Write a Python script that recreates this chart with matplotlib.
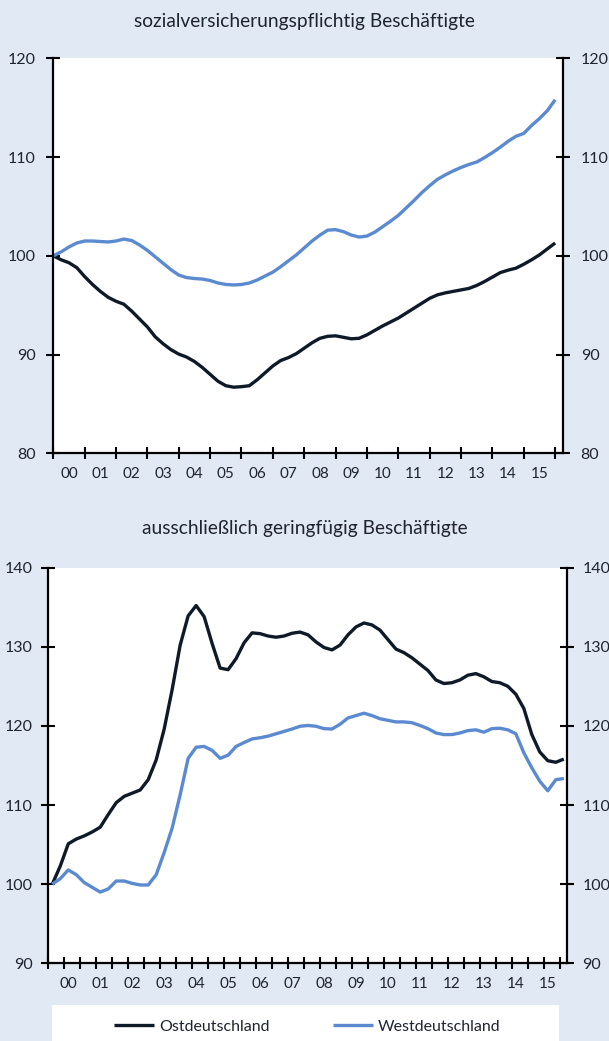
import numpy as np
import matplotlib
matplotlib.use('Agg')
import matplotlib.pyplot as plt
from matplotlib.patches import Rectangle

plt.rcParams['font.family'] = ['Lato', 'DejaVu Sans']

# quarterly index values, 2000 = 100 (Q1 2000 .. Q1 2016)
quarters = 2000 + np.arange(65) / 4.0

svb_ost = [100.0, 99.6, 99.3, 98.8, 97.9, 97.1, 96.4, 95.8, 95.4, 95.1,
           94.4, 93.6, 92.8, 91.8, 91.1, 90.5, 90.05, 89.75, 89.3, 88.7,
           88.0, 87.3, 86.85, 86.7, 86.75, 86.85, 87.45, 88.15, 88.85, 89.4,
           89.7, 90.1, 90.65, 91.2, 91.65, 91.85, 91.9, 91.75, 91.6, 91.65,
           92.0, 92.45, 92.9, 93.3, 93.7, 94.2, 94.7, 95.2, 95.7, 96.05,
           96.25, 96.4, 96.55, 96.7, 97.0, 97.4, 97.85, 98.3, 98.55, 98.75,
           99.15, 99.6, 100.1, 100.7, 101.3]
svb_west = [100.0, 100.4, 100.9, 101.3, 101.5, 101.5, 101.45, 101.4, 101.5, 101.7,
            101.55, 101.1, 100.55, 99.9, 99.25, 98.6, 98.05, 97.8, 97.7, 97.65,
            97.5, 97.25, 97.1, 97.05, 97.1, 97.25, 97.55, 97.95, 98.35, 98.9,
            99.5, 100.1, 100.8, 101.5, 102.1, 102.6, 102.65, 102.45, 102.1, 101.9,
            102.0, 102.4, 102.95, 103.5, 104.1, 104.85, 105.6, 106.4, 107.1, 107.75,
            108.2, 108.6, 108.95, 109.25, 109.5, 109.95, 110.45, 111.0, 111.6, 112.1,
            112.4, 113.2, 113.9, 114.7, 115.8]

gb_ost = [100.0, 102.3, 105.1, 105.7, 106.1, 106.6, 107.2, 108.8, 110.3, 111.1,
          111.5, 111.9, 113.2, 115.7, 119.6, 124.6, 130.2, 133.9, 135.2, 133.8,
          130.4, 127.3, 127.1, 128.5, 130.5, 131.75, 131.65, 131.35, 131.2, 131.35,
          131.7, 131.85, 131.5, 130.6, 129.9, 129.6, 130.2, 131.5, 132.5, 133.0,
          132.75, 132.1, 130.9, 129.7, 129.25, 128.6, 127.8, 127.0, 125.8, 125.35,
          125.45, 125.8, 126.4, 126.6, 126.2, 125.6, 125.45, 125.0, 124.0, 122.2,
          118.9, 116.7, 115.6, 115.4, 115.8]
gb_west = [100.0, 100.7, 101.8, 101.2, 100.2, 99.6, 99.0, 99.4, 100.4, 100.4,
           100.1, 99.9, 99.9, 101.2, 104.0, 107.1, 111.3, 115.9, 117.3, 117.4,
           116.9, 115.9, 116.3, 117.4, 117.9, 118.35, 118.5, 118.7, 119.0, 119.3,
           119.6, 119.95, 120.05, 119.95, 119.65, 119.6, 120.2, 121.0, 121.3, 121.6,
           121.3, 120.9, 120.7, 120.5, 120.5, 120.4, 120.05, 119.65, 119.1, 118.9,
           118.9, 119.1, 119.4, 119.5, 119.2, 119.65, 119.7, 119.5, 119.0, 116.6,
           114.7, 113.0, 111.8, 113.2, 113.35]

years = list(range(2000, 2016))
year_labels = ['%02d' % (y % 100) for y in years]

bg = '#e1e9f4'
c_ost = '#0e1a28'
c_west = '#5b8ad0'
txt = '#1f2530'

fig = plt.figure(figsize=(6.09, 10.41), dpi=100, facecolor=bg)


def style_axes(ax, yticks, xticks, ypad):
    ax.set_facecolor('white')
    ax.spines['top'].set_visible(False)
    for s in ['left', 'right', 'bottom']:
        ax.spines[s].set_linewidth(1.6)
        ax.spines[s].set_color('black')
    ax.set_yticks(yticks)
    ax.set_ylim(yticks[0], yticks[-1])
    ax.set_xticks(xticks)
    ax.set_xticklabels([])
    ax.set_xticks([y + 0.5 for y in years], minor=True)
    ax.set_xticklabels(year_labels, minor=True)
    ax.tick_params(axis='x', which='major', direction='inout', length=8,
                   width=1.5, color='black')
    ax.tick_params(axis='x', which='minor', length=0, pad=10,
                   labelsize=11, labelcolor=txt)
    ax.tick_params(axis='y', direction='inout', length=10, width=1.5,
                   color='black', left=True, right=True,
                   labelleft=True, labelright=True, pad=ypad,
                   labelsize=11.5, labelcolor=txt)


# top panel
ax1 = fig.add_axes([0.0875, 0.5645, 0.8375, 0.3795])
ax1.plot(quarters, svb_ost, color=c_ost, lw=2.4, solid_capstyle='butt')
ax1.plot(quarters, svb_west, color=c_west, lw=2.4, solid_capstyle='butt')
style_axes(ax1, [80, 90, 100, 110, 120], list(range(2000, 2017)), 7.5)
ax1.set_xlim(2000, 2016.26)
fig.text(0.5, 0.979, 'sozialversicherungspflichtig Beschäftigte',
         ha='center', va='center', fontsize=13.8, color=txt)

# bottom panel
ax2 = fig.add_axes([0.0793, 0.0746, 0.8517, 0.3802])
l_ost, = ax2.plot(quarters, gb_ost, color=c_ost, lw=2.4, solid_capstyle='butt')
l_west, = ax2.plot(quarters, gb_west, color=c_west, lw=2.4, solid_capstyle='butt')
style_axes(ax2, [90, 100, 110, 120, 130, 140],
           list(np.arange(1999.875, 2016.0, 0.5)), 6)
ax2.set_xlim(1999.875, 2016.1)
fig.text(0.5, 0.492, 'ausschließlich geringfügig Beschäftigte',
         ha='center', va='center', fontsize=13.8, color=txt)

# legend box
fig.patches.append(Rectangle((0.0854, 0.0), 0.8326, 0.0346, transform=fig.transFigure,
                             facecolor='white', edgecolor='none', zorder=0))
fig.legend([l_ost, l_west], ['Ostdeutschland', 'Westdeutschland'],
           loc='center', bbox_to_anchor=(0.505, 0.0135), ncol=2, frameon=False,
           fontsize=11.5, handlelength=2.5, handletextpad=0.3,
           columnspacing=4.0, labelcolor=txt)

fig.savefig('out.png', dpi=100, facecolor=bg)
